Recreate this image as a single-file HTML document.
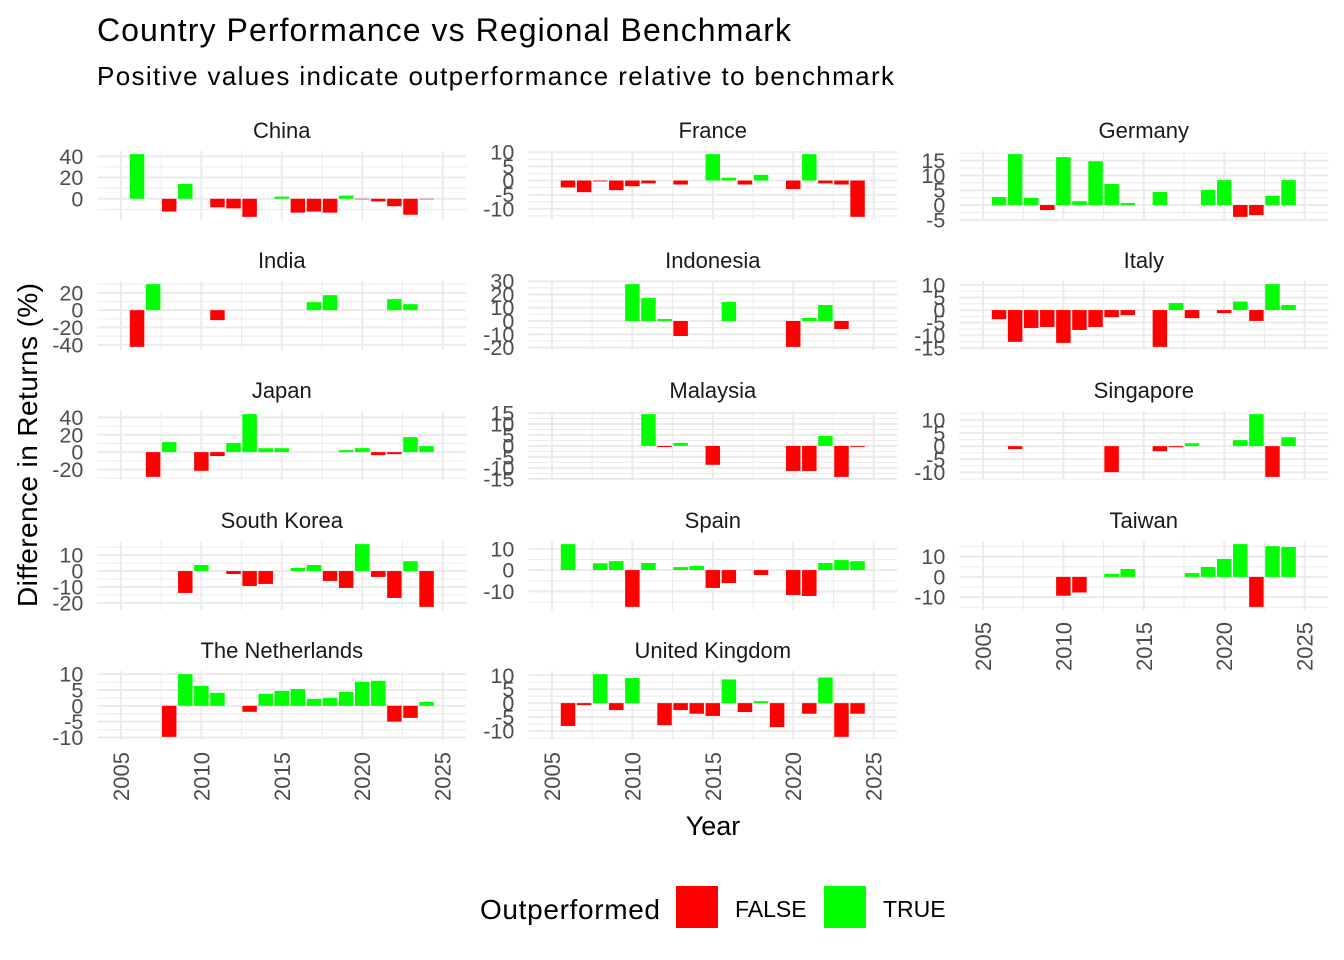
<!DOCTYPE html>
<html><head><meta charset="utf-8"><style>
html,body{margin:0;padding:0;background:#fff;}
svg{display:block;font-family:"Liberation Sans",Arial,sans-serif;}
</style></head><body>
<svg id="chart" width="1344" height="960" viewBox="0 0 1344 960">
<text x="97" y="41" font-size="32" fill="#000" textLength="694">Country Performance vs Regional Benchmark</text>
<text x="97" y="85" font-size="26" fill="#000" textLength="797">Positive values indicate outperformance relative to benchmark</text>
<text transform="translate(37,445) rotate(-90)" text-anchor="middle" font-size="28" fill="#000" textLength="324">Difference in Returns (%)</text>
<text x="713" y="835" text-anchor="middle" font-size="27" fill="#000">Year</text>
<g>
<text x="480" y="919" font-size="28" fill="#000" textLength="180">Outperformed</text>
<rect x="676" y="886" width="42" height="42" fill="#ff0000"></rect>
<text x="735" y="917" font-size="23" fill="#000">FALSE</text>
<rect x="824" y="886" width="42" height="42" fill="#00ff00"></rect>
<text x="883" y="917" font-size="23" fill="#000">TRUE</text>
</g>
<g id="panels"></g>
</svg>
<script>
const countries = ["China","France","Germany","India","Indonesia","Italy","Japan","Malaysia","Singapore","South Korea","Spain","Taiwan","The Netherlands","United Kingdom"];
const chinaYears = [2006,2008,2009,2011,2012,2013,2015,2016,2017,2018,2019,2020,2021,2022,2023,2024];
const chinaVals = [42,-12,14,-8,-9,-17,2,-13,-12,-13,3,-0.5,-2.5,-7,-15,-0.5];
const franceYears = [2006,2007,2008,2009,2010,2011,2013,2015,2016,2017,2018,2020,2021,2022,2023,2024];
const franceVals = [-2.4,-4.1,-0.3,-3.4,-2,-1,-1.4,9.3,1,-1.4,2,-3,9.3,-1,-1.4,-12.8];
const germanyYears = [2006,2007,2008,2009,2010,2011,2012,2013,2014,2016,2019,2020,2021,2022,2023,2024];
const germanyVals = [2.7,17.2,2.4,-1.7,16.2,1.3,14.8,7.1,0.7,4.4,5.1,8.4,-4,-3.4,3.1,8.4];
const indiaYears = [2006,2007,2011,2017,2018,2022,2023];
const indiaVals = [-42.3,30,-11.5,9.2,17.3,12.7,6.9];
const indonesiaYears = [2010,2011,2012,2013,2016,2020,2021,2022,2023];
const indonesiaVals = [27.8,17.3,1.5,-11.3,14.3,-19.5,2.3,12,-6];
const italyYears = [2006,2007,2008,2009,2010,2011,2012,2013,2014,2016,2017,2018,2020,2021,2022,2023,2024];
const italyVals = [-3.6,-12.6,-7.1,-6.7,-13,-7.9,-6.7,-2.8,-2,-14.6,2.8,-3.2,-1.2,3.4,-4.3,10.3,2];
const japanYears = [2007,2008,2010,2011,2012,2013,2014,2015,2019,2020,2021,2022,2023,2024];
const japanVals = [-28.5,11.5,-21.5,-4.5,10.4,43.8,4.5,4.5,2.3,4.6,-3.5,-2.3,17.3,6.9];
const malaysiaYears = [2011,2012,2013,2015,2020,2021,2022,2023,2024];
const malaysiaVals = [14.5,-0.5,1.4,-8.6,-11.4,-11.4,4.5,-14.1,-0.4];
const singaporeYears = [2007,2013,2016,2017,2018,2021,2022,2023,2024];
const singaporeVals = [-1.1,-9.9,-1.9,-0.4,1.1,2.3,12.2,-11.7,3.4];
const koreaYears = [2009,2010,2012,2013,2014,2016,2017,2018,2019,2020,2021,2022,2023,2024];
const koreaVals = [-13.75,3.8,-1.9,-9.4,-8.1,1.9,3.8,-6.2,-10.6,16.9,-3.7,-16.9,6.2,-22.5];
const spainYears = [2006,2008,2009,2010,2011,2013,2014,2015,2016,2018,2020,2021,2022,2023,2024];
const spainVals = [12.2,3.2,4.2,-17.3,3.3,1.4,1.9,-8.4,-6.1,-2.3,-11.7,-12.2,3.3,4.7,4.2];
const taiwanYears = [2010,2011,2013,2014,2018,2019,2020,2021,2022,2023,2024];
const taiwanVals = [-9.3,-7.7,1.5,3.9,1.9,4.9,8.9,16.2,-14.8,15.2,14.8];
const nlYears = [2008,2009,2010,2011,2013,2014,2015,2016,2017,2018,2019,2020,2021,2022,2023,2024];
const nlVals = [-9.8,10,6.3,4.1,-1.9,3.8,4.7,5.3,2.2,2.5,4.4,7.6,7.9,-5,-3.8,1.2];
const ukYears = [2006,2007,2008,2009,2010,2012,2013,2014,2015,2016,2017,2018,2019,2021,2022,2023,2024];
const ukVals = [-8.2,-0.7,10.4,-2.5,9,-7.9,-2.5,-3.8,-4.6,8.5,-3.2,0.7,-8.6,-3.8,9.2,-12.1,-3.8];
const yearsList = [chinaYears,franceYears,germanyYears,indiaYears,indonesiaYears,italyYears,japanYears,malaysiaYears,singaporeYears,koreaYears,spainYears,taiwanYears,nlYears,ukYears];
const valsList = [chinaVals,franceVals,germanyVals,indiaVals,indonesiaVals,italyVals,japanVals,malaysiaVals,singaporeVals,koreaVals,spainVals,taiwanVals,nlVals,ukVals];
const yBreaks = [[0,20,40],[-10,-5,0,5,10],[-5,0,5,10,15],[-40,-20,0,20],[-20,-10,0,10,20,30],[-15,-10,-5,0,5,10],[-20,0,20,40],[-15,-10,-5,0,5,10,15],[-10,-5,0,5,10],[-20,-10,0,10],[-10,0,10],[-10,0,10],[-10,-5,0,5,10],[-10,-5,0,5,10]];
const xBreaks = [2005,2010,2015,2020,2025];
const xTickLabels = ["2005","2010","2015","2020","2025"];

const NS = "http://www.w3.org/2000/svg";
const root = document.getElementById('panels');
function mk(tag, attrs, parent){const e=document.createElementNS(NS,tag);for(const k in attrs)e.setAttribute(k,attrs[k]);parent.appendChild(e);return e;}
const colLeft=[97.3,528.3,959.3], panelW=369, panelH=69;
const X0=2003.53, X1=2026.47;
function slug(s){return s.toLowerCase().replace(/[^a-z0-9]+/g,'-');}

countries.forEach((name,i)=>{
  const col=i%3,row=Math.floor(i/3);
  const left=colLeft[col], top=151+130*row;
  const xs=v=>left+(v-X0)/(X1-X0)*panelW;
  const vals=valsList[i], yrs=yearsList[i];
  let mn=Math.min(0,...vals), mx=Math.max(0,...vals);
  const pad=(mx-mn)*0.05; mn-=pad; mx+=pad;
  const ys=v=>top+(mx-v)/(mx-mn)*panelH;
  const g=mk('g',{},root);
  
  
  const strip=mk('text',{x:left+panelW/2,y:top-13,'text-anchor':'middle','font-size':22,fill:'#1a1a1a'},g);
  strip.textContent=name;
  
  
  const br=yBreaks[i], step=br[1]-br[0];
  for(let k=-1;k<br.length;k++){const v=(k<0?br[0]:br[k])+(k<0?-step/2:step/2);if(v>mn&&v<mx){const l=mk('line',{x1:left,x2:left+panelW,y1:ys(v),y2:ys(v),stroke:'#ebebeb','stroke-width':1},g);}}
  for(let k=0;k<xBreaks.length;k++){[xBreaks[k]-2.5,xBreaks[k]+2.5].forEach(v=>{if(v>X0&&v<X1&&!(k>0&&v===xBreaks[k]-2.5)){const l=mk('line',{x1:xs(v),x2:xs(v),y1:top,y2:top+panelH,stroke:'#ebebeb','stroke-width':1},g);}});}
  br.forEach(v=>{if(v>=mn&&v<=mx){
    const l=mk('line',{x1:left,x2:left+panelW,y1:ys(v),y2:ys(v),stroke:'#ebebeb','stroke-width':2},g);
    
    
    const t=mk('text',{x:left-14,y:ys(v)+7.5,'text-anchor':'end','font-size':21.5,fill:'#4d4d4d'},g);
    t.textContent=String(v);
    
    
  }});
  xBreaks.forEach(v=>{
    const l=mk('line',{x1:xs(v),x2:xs(v),y1:top,y2:top+panelH,stroke:'#ebebeb','stroke-width':2},g);
    
    
  });
  yrs.forEach((yr,j)=>{
    const v=vals[j];
    const r=mk('rect',{x:xs(yr-0.45),width:xs(yr+0.45)-xs(yr-0.45),y:Math.min(ys(v),ys(0)),height:Math.abs(ys(v)-ys(0)),fill:v>0?'#00ff00':'#ff0000'},g);
    
    
  });
  if(row===4||(row===3&&col===2)){
    xBreaks.forEach((v,k)=>{
      const t=mk('text',{transform:'translate('+(xs(v)+8)+','+(top+panelH+12)+') rotate(-90)','text-anchor':'end','font-size':22,fill:'#4d4d4d'},g);
      t.textContent=xTickLabels[k];
      
      
    });
  }
});
</script>
</body></html>
